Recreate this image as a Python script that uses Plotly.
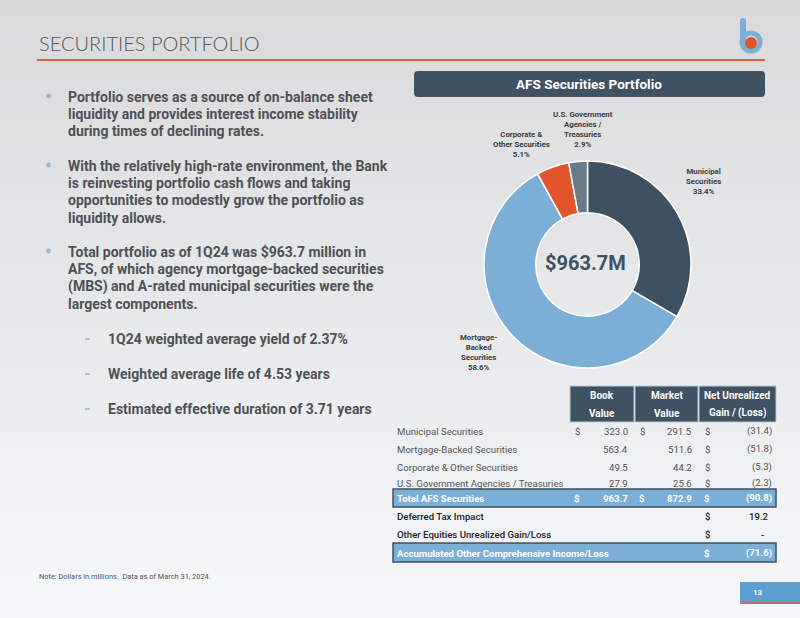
import plotly.graph_objects as go

# ---------------- data ----------------
pie_names = ["Municipal Securities", "Mortgage-Backed Securities",
             "Corporate & Other Securities", "U.S. Government Agencies / Treasuries"]
pie_label_text = ["Municipal<br>Securities", "Mortgage-<br>Backed<br>Securities",
                  "Corporate &<br>Other Securities", "U.S. Government<br>Agencies /<br>Treasuries"]
pie_pct = [33.4, 58.6, 5.1, 2.9]
pie_colors = ["#3e5161", "#7bafd6", "#e0552c", "#6b7a88"]
portfolio_total_label = "$963.7M"

row_names = ["Municipal Securities", "Mortgage-Backed Securities",
             "Corporate & Other Securities", "U.S. Government Agencies / Treasuries"]
book_value = [323.0, 563.4, 49.5, 27.9]
market_value = [291.5, 511.6, 44.2, 25.6]
net_gain = [-31.4, -51.8, -5.3, -2.3]
total_book = 963.7
total_market = 872.9
total_gain = -90.8
deferred_tax = 19.2
other_equities = 0.0
aoci = -71.6

bullets = [
    ["Portfolio serves as a source of on-balance sheet",
     "liquidity and provides interest income stability",
     "during times of declining rates."],
    ["With the relatively high-rate environment, the Bank",
     "is reinvesting portfolio cash flows and taking",
     "opportunities to modestly grow the portfolio as",
     "liquidity allows."],
    ["Total portfolio as of 1Q24 was $963.7 million in",
     "AFS, of which agency mortgage-backed securities",
     "(MBS) and A-rated municipal securities were the",
     "largest components."],
]
sub_bullets = ["1Q24 weighted average yield of 2.37%",
               "Weighted average life of 4.53 years",
               "Estimated effective duration of 3.71 years"]

# ---------------- helpers ----------------
W, H = 800, 618
def X(p): return p / W
def Y(p): return 1 - p / H

shapes, ann = [], []
FONT = "Roboto"

def text(x, y, s, size=9, color="#555", xanchor="left", yanchor="middle",
         family=FONT, weight=None, align="left"):
    f = dict(family=family, size=size, color=color)
    if weight is not None:
        f["weight"] = weight
    ann.append(dict(x=X(x), y=Y(y), xref="paper", yref="paper", text=s, showarrow=False,
                    xanchor=xanchor, yanchor=yanchor, font=f, align=align))

def rect(x0, y0, x1, y1, fill, line_color=None, lw=0, layer="below"):
    shapes.append(dict(type="rect", xref="paper", yref="paper", x0=X(x0), x1=X(x1),
                       y0=Y(y1), y1=Y(y0), fillcolor=fill, layer=layer,
                       line=dict(color=line_color or fill, width=lw)))

def rrect(x0, y0, x1, y1, r, fill):
    pts = [("M", x0 + r, y0), ("L", x1 - r, y0), ("Q", x1, y0, x1, y0 + r),
           ("L", x1, y1 - r), ("Q", x1, y1, x1 - r, y1), ("L", x0 + r, y1),
           ("Q", x0, y1, x0, y1 - r), ("L", x0, y0 + r), ("Q", x0, y0, x0 + r, y0)]
    path = ""
    for p in pts:
        cmd, vals = p[0], p[1:]
        coords = " ".join(f"{X(vals[i]):.5f},{Y(vals[i+1]):.5f}" for i in range(0, len(vals), 2))
        path += f"{cmd}{coords} "
    shapes.append(dict(type="path", xref="paper", yref="paper", path=path + "Z",
                       fillcolor=fill, line=dict(width=0), layer="below"))

def line(x0, y0, x1, y1, color, width):
    shapes.append(dict(type="line", xref="paper", yref="paper", x0=X(x0), x1=X(x1),
                       y0=Y(y0), y1=Y(y1), line=dict(color=color, width=width)))

def circle(cx, cy, r, fill=None, line_color=None, lw=0):
    shapes.append(dict(type="circle", xref="paper", yref="paper",
                       x0=X(cx - r), x1=X(cx + r), y0=Y(cy + r), y1=Y(cy - r),
                       fillcolor=fill if fill else "rgba(0,0,0,0)",
                       line=dict(color=line_color or "rgba(0,0,0,0)", width=lw)))

# ---------------- background gradient ----------------
N = 40
c_top, c_bot = (218, 218, 219), (245, 247, 250)
for i in range(N):
    t = i / (N - 1)
    c = tuple(round(c_top[k] + (c_bot[k] - c_top[k]) * t) for k in range(3))
    rect(0, i * H / N, W, (i + 1) * H / N + 1, f"rgb{c}")

# ---------------- title / logo ----------------
text(37, 43, "SECURITIES PORTFOLIO", size=20, color="#555", family="Lato", weight=300)
line(37, 60, 765, 60, "#d8613f", 2.2)
line(743, 20, 743, 43, "#7bafd6", 6)
circle(743, 21, 3, fill="#7bafd6")
circle(751, 42, 9, line_color="#7bafd6", lw=5)
circle(751, 43, 6, fill="#e0552c")

# ---------------- chart header ----------------
rrect(414, 71, 765, 97, 4, "#3f5262")
text(589, 84, "<b>AFS Securities Portfolio</b>", size=13.5, color="white", xanchor="center")

# ---------------- donut ----------------
pie = go.Pie(values=pie_pct, labels=pie_names, sort=False, direction="clockwise",
             rotation=0, hole=0.5, textinfo="none", showlegend=False,
             marker=dict(colors=pie_colors, line=dict(color="white", width=1.5)),
             domain=dict(x=[X(483), X(692)], y=[Y(368), Y(161)]))

label_pos = [(703, 181.5), (478, 352.5), (521, 144.5), (583, 129.5)]
for (lx, ly), lt, pct in zip(label_pos, pie_label_text, pie_pct):
    text(lx, ly, f"<b>{lt}<br>{pct:.1f}%</b>", size=7.8, color="#3c3c3c",
         xanchor="center", align="center")
text(585, 263, f"<b>{portfolio_total_label}</b>", size=20, color="#3e5161", xanchor="center")

# ---------------- table ----------------
hdr = [(570, 634, "Book", "Value"), (635, 698, "Market", "Value"),
       (699, 776, "Net Unrealized", "Gain / (Loss)")]
for x0, x1, a, b in hdr:
    rect(x0, 386, x1, 422, "#3f5262", "#b5cde0", 1, layer="above")
    text((x0 + x1) / 2, 395, f"<b>{a}</b>", size=10, color="white", xanchor="center")
    text((x0 + x1) / 2, 413, f"<b>{b}</b>", size=10, color="white", xanchor="center")

rect(393, 489, 776, 507, "#7bafd6", "#3e5161", 1.5, layer="above")
rect(393, 543, 776, 562, "#7bafd6", "#3e5161", 1.5, layer="above")

COLS = dict(bd=577, bv=630, md=642, mv=694, nd=707, nv=774)
TS = 9.6

def fmt(v):
    if v < 0:
        return f"({abs(v):.1f})", COLS["nv"]
    if v == 0:
        return "-", COLS["nv"] - 8
    return f"{v:.1f}", COLS["nv"] - 3

def wrap(s, bold):
    return f"<b>{s}</b>" if bold else s

def row(y, name, b=None, m=None, n=None, dollars=(False, False, True),
        color="#555", bold=False, weight=None):
    text(395, y, wrap(name, bold), size=TS, color=color, weight=weight)
    if b is not None:
        text(COLS["bv"], y, wrap(f"{b:.1f}", bold), size=TS, color=color, xanchor="right", weight=weight)
    if m is not None:
        text(COLS["mv"], y, wrap(f"{m:.1f}", bold), size=TS, color=color, xanchor="right", weight=weight)
    if n is not None:
        s, x = fmt(n)
        text(x, y, wrap(s, bold), size=TS, color=color, xanchor="right", weight=weight)
    for flag, key in zip(dollars, ["bd", "md", "nd"]):
        if flag:
            text(COLS[key], y, wrap("$", bold), size=TS, color=color, xanchor="center", weight=weight)

row_y = [431, 449, 467, 483]
for i, (yy, nm) in enumerate(zip(row_y, row_names)):
    row(yy, nm, book_value[i], market_value[i], net_gain[i],
        dollars=(True, True, True) if i == 0 else (False, False, True))
row(498, "Total AFS Securities", total_book, total_market, total_gain,
    dollars=(True, True, True), color="white", bold=True)
row(516, "Deferred Tax Impact", n=deferred_tax, color="#222", weight=500)
row(534, "Other Equities Unrealized Gain/Loss", n=other_equities, color="#222", weight=500)
row(553, "Accumulated Other Comprehensive Income/Loss", n=aoci, color="white", bold=True)

# ---------------- left text ----------------
BS = 14
bullet_y = [97, 166, 252]
for by, lines in zip(bullet_y, bullets):
    circle(48.5, by - 1, 2.4, fill="#8fbadc")
    for k, ln in enumerate(lines):
        text(66, by + k * 17.2, f"<b>{ln}</b>", size=BS, color="#4e5156")
sub_y = [339, 374, 409]
for sy, s in zip(sub_y, sub_bullets):
    line(85, sy, 90, sy, "#8fbadc", 1.5)
    text(106, sy, f"<b>{s}</b>", size=BS, color="#4e5156")

# ---------------- footer ----------------
text(37, 576, "Note: Dollars in millions.  Data as of March 31, 2024.", size=7.4, color="#555")
rect(740, 582, 800, 602, "#5c9fd1", layer="above")
rect(740, 602, 800, 604, "#b56f62", layer="above")
text(758, 592, "<b>13</b>", size=8, color="white", xanchor="center")

fig = go.Figure(pie)
fig.update_layout(width=W, height=H, margin=dict(l=0, r=0, t=0, b=0),
                  paper_bgcolor="#e8e9eb", plot_bgcolor="rgba(0,0,0,0)",
                  shapes=shapes, annotations=ann, font=dict(family=FONT))
fig.write_html("out.html", config={"displayModeBar": False},
               post_script="document.body.style.margin='0';document.body.style.overflow='hidden';")
